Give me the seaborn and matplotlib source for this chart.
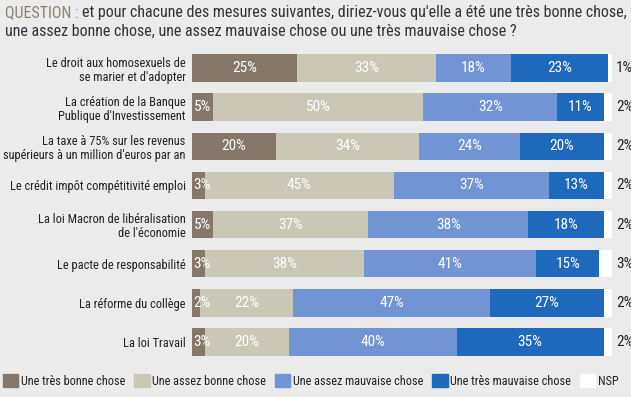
import matplotlib.pyplot as plt
import matplotlib.patches as mpatches
import numpy as np
import pandas as pd
import seaborn as sns

mesures = [
    "Le droit aux homosexuels de\nse marier et d'adopter",
    "La création de la Banque\nPublique d'Investissement",
    "La taxe à 75% sur les revenus\nsupérieurs à un million d'euros par an",
    "Le crédit impôt compétitivité emploi",
    "La loi Macron de libéralisation\nde l'économie",
    "Le pacte de responsabilité",
    "La réforme du collège",
    "La loi Travail",
]
tres_bonne = [25, 5, 20, 3, 5, 3, 2, 3]
assez_bonne = [33, 50, 34, 45, 37, 38, 22, 20]
assez_mauvaise = [18, 32, 24, 37, 38, 41, 47, 40]
tres_mauvaise = [23, 11, 20, 13, 18, 15, 27, 35]
nsp = [1, 2, 2, 2, 2, 3, 2, 2]

series = ["Une très bonne chose", "Une assez bonne chose", "Une assez mauvaise chose",
          "Une très mauvaise chose", "NSP"]
colors = ["#85786b", "#cbc7b7", "#7094d4", "#1f69bd", "#ffffff"]
BG = "#ebebeb"

sns.set_theme(style="white")
FONT = ["Liberation Sans Narrow", "Roboto Condensed", "DejaVu Sans"]
plt.rcParams["font.family"] = FONT

df = pd.DataFrame({"mesure": mesures, series[0]: tres_bonne, series[1]: assez_bonne,
                   series[2]: assez_mauvaise, series[3]: tres_mauvaise, series[4]: nsp})
vals = df[series].to_numpy()
cum = vals.cumsum(axis=1)

fig = plt.figure(figsize=(6.31, 3.97), dpi=100, facecolor=BG)
ax = fig.add_axes([192 / 631, 1 - 361.5 / 397, 420 / 631, 313 / 397])
ax.set_facecolor(BG)

# stacked bars: draw cumulative totals from the largest down
for i in range(len(series) - 1, -1, -1):
    tmp = pd.DataFrame({"mesure": mesures, "total": cum[:, i]})
    sns.barplot(data=tmp, x="total", y="mesure", orient="h", color=colors[i],
                width=0.7, saturation=1, ax=ax, linewidth=0)

for r in range(len(mesures)):
    for i in range(4):
        v = vals[r, i]
        left = cum[r, i] - v
        if v < 4:
            ax.text(left + 0.3, r, f"{v}%", ha="left", va="center", color="white",
                    fontsize=11, family=FONT)
        else:
            ax.text(left + v / 2, r, f"{v}%", ha="center", va="center", color="white",
                    fontsize=11, family=FONT)
    ax.text(100.9, r, f"{vals[r, 4]}%", ha="left", va="center", color="#222222",
            fontsize=11, family=FONT, clip_on=False)

ax.set_xlim(0, 100)
ax.set_ylim(len(mesures) - 0.5, -0.5)
ax.set_xlabel("")
ax.set_ylabel("")
ax.set_xticks([])
ax.tick_params(axis="y", length=0, pad=4.5, labelsize=8.9, labelcolor="#222222")
for lab in ax.get_yticklabels():
    lab.set_horizontalalignment("right")
    lab.set_multialignment("right")
    lab.set_linespacing(1.1)
sns.despine(ax=ax, left=True, bottom=True)

q = fig.text(5 / 631, 1 - 17 / 397, "QUESTION :", color="#8c8270", fontsize=11.5,
             va="baseline", family=FONT)
fig.canvas.draw()
q_end = q.get_window_extent().x1 / fig.bbox.width
fig.text(q_end + 3 / 631, 1 - 17 / 397,
         "et pour chacune des mesures suivantes, diriez-vous qu'elle a été une très bonne chose,",
         color="#333333", fontsize=11.5, va="baseline", family=FONT)
fig.text(5 / 631, 1 - 36 / 397,
         "une assez bonne chose, une assez mauvaise chose ou une très mauvaise chose ?",
         color="#333333", fontsize=11.5, va="baseline", family=FONT)

handles = [mpatches.Patch(color=c, label=s) for s, c in zip(series, colors)]
fig.legend(handles=handles, loc="center left", bbox_to_anchor=(3 / 631, 1 - 381 / 397),
           ncol=5, frameon=False, handlelength=1.25, handleheight=1.25, handletextpad=0.2,
           columnspacing=0.75, borderaxespad=0, borderpad=0,
           prop={"family": FONT, "size": 8.8}, labelcolor="#222222")

fig.savefig("out.png", dpi=100, facecolor=BG)
